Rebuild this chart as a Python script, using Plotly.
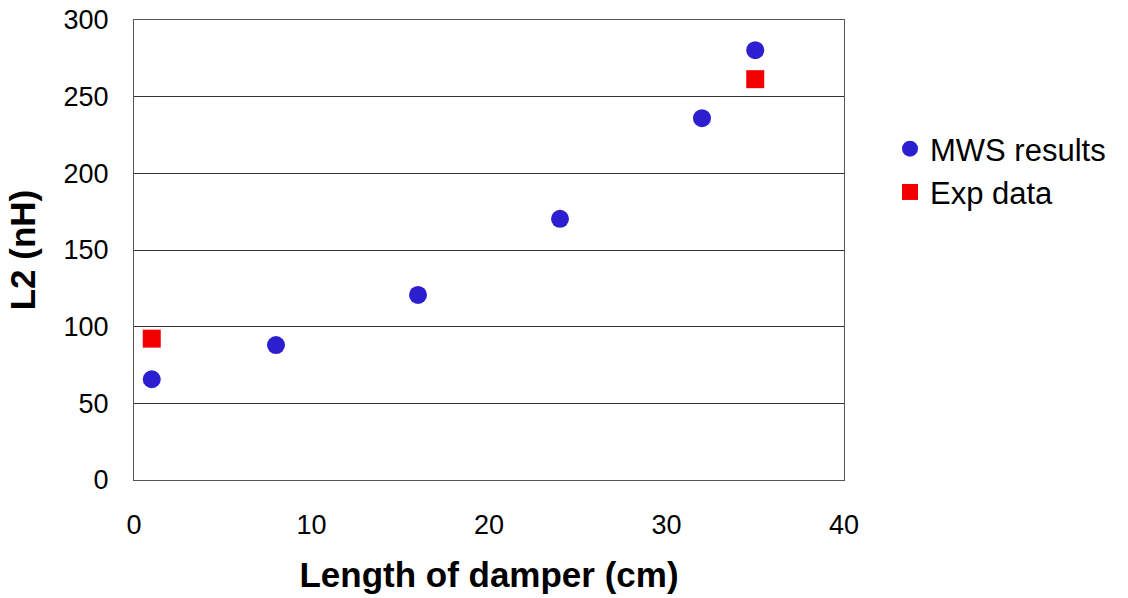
import plotly.graph_objects as go

# Data
mws_length = [1, 8, 16, 24, 32, 35]
mws_l2 = [65.7, 88, 120.7, 170.3, 236, 280.3]
exp_length = [1, 35]
exp_l2 = [92.2, 261.4]

x_ticks = [0, 10, 20, 30, 40]
y_ticks = [0, 50, 100, 150, 200, 250, 300]

FONT = "Liberation Sans, Arial, sans-serif"

fig = go.Figure()
fig.add_trace(go.Scatter(
    x=mws_length, y=mws_l2, mode="markers", name="MWS results",
    marker=dict(symbol="circle", size=18, color="#2B1FD0", line=dict(width=0)),
))
fig.add_trace(go.Scatter(
    x=exp_length, y=exp_l2, mode="markers", name="Exp data",
    marker=dict(symbol="square", size=18, color="#F20000", line=dict(width=0)),
))

fig.update_layout(
    width=1128, height=598,
    margin=dict(l=134, r=284, t=20, b=118, autoexpand=False),
    paper_bgcolor="white", plot_bgcolor="white",
    font=dict(family=FONT, color="black", size=27),
    showlegend=True,
    legend=dict(
        x=1.0 + (890 - 844) / 710, xanchor="left",
        y=(480 - 122) / 460, yanchor="top",
        font=dict(size=31, family=FONT),
        bgcolor="rgba(0,0,0,0)", borderwidth=0,
        tracegroupgap=0, itemsizing="trace",
    ),
    xaxis=dict(
        range=[0, 40], tickvals=x_ticks, ticktext=[str(v) for v in x_ticks],
        showgrid=False, zeroline=False,
        showline=True, mirror=True, linecolor="#555", linewidth=1,
        ticks="", ticklabelstandoff=21,
        tickfont=dict(size=27, family=FONT),
        title=dict(text="<b>Length of damper (cm)</b>", font=dict(size=35, family=FONT), standoff=23),
        automargin=False,
    ),
    yaxis=dict(
        range=[0, 300], tickvals=y_ticks, ticktext=[str(v) for v in y_ticks],
        showgrid=True, gridcolor="#333", gridwidth=1, zeroline=False,
        showline=True, mirror=True, linecolor="#555", linewidth=1,
        ticks="", ticklabelstandoff=19,
        tickfont=dict(size=27, family=FONT),
        title=dict(text="<b>L2 (nH)</b>", font=dict(size=35, family=FONT), standoff=17),
        automargin=False,
    ),
)

fig.write_html("out.html")
